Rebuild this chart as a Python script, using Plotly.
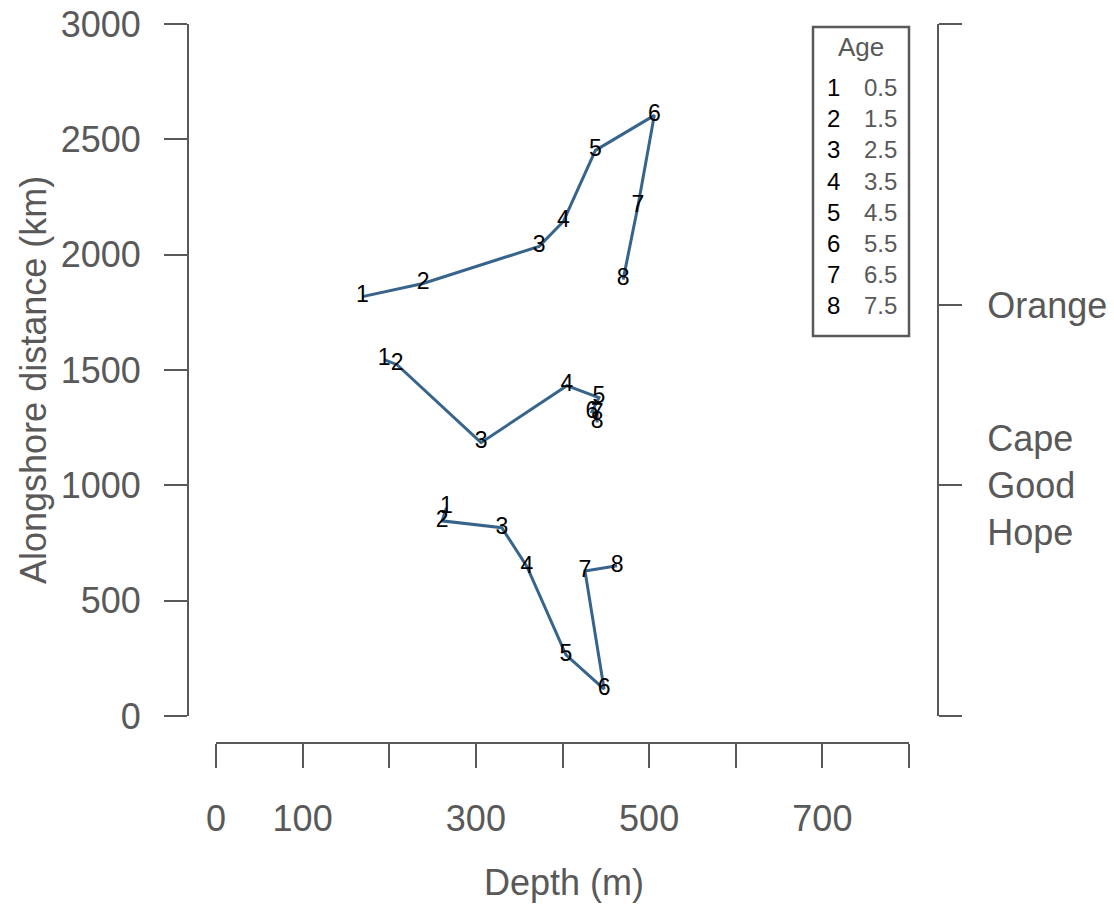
import plotly.graph_objects as go

# ---- data ----
age_labels = ["1", "2", "3", "4", "5", "6", "7", "8"]
ages = [0.5, 1.5, 2.5, 3.5, 4.5, 5.5, 6.5, 7.5]

# northern group
north_depth = [169, 239, 373, 401, 438, 506, 487, 470]
north_dist = [1818, 1875, 2036, 2144, 2452, 2604, 2209, 1892]

# middle group
mid_depth = [194, 209, 306, 405, 442, 434, 440, 440]
mid_dist = [1545, 1523, 1185, 1432, 1380, 1319, 1310, 1272]

# southern group
south_depth = [266, 261, 330, 359, 404, 448, 426, 463]
south_dist = [903, 846, 816, 647, 265, 117, 629, 651]

x_ticks = [0, 100, 200, 300, 400, 500, 600, 700, 800]
x_ticktext = ["0", "100", "", "300", "", "500", "", "700", ""]
y_ticks = [0, 500, 1000, 1500, 2000, 2500, 3000]
region_vals = [1000, 1780]
region_text = ["Cape<br>Good<br>Hope", "Orange"]
region_ticks = [0] + region_vals + [3000]
region_ticktext = [""] + region_text + [""]

W, H = 1114, 908
FONT = "Liberation Sans, Arial, sans-serif"
GRAY = "#595959"
LINE = "#36648B"


def px(x):
    return x / W


def py(y):
    return 1 - y / H


fig = go.Figure()
for dx, dy in [(north_depth, north_dist), (mid_depth, mid_dist), (south_depth, south_dist)]:
    fig.add_trace(go.Scatter(
        x=dx, y=dy, mode="lines+text", text=age_labels,
        textposition="middle center",
        textfont=dict(family=FONT, size=23, color="black"),
        line=dict(color=LINE, width=3),
        showlegend=False, hoverinfo="skip",
    ))

# carrier for the right-hand region axis (invisible)
fig.add_trace(go.Scatter(
    x=[None, None], y=region_vals, yaxis="y2", mode="markers",
    marker=dict(opacity=0), showlegend=False, hoverinfo="skip",
))

axis_common = dict(
    showline=True, linecolor=GRAY, linewidth=2, ticks="outside",
    tickcolor=GRAY, tickwidth=2, showgrid=False, zeroline=False,
    tickfont=dict(family=FONT, size=36, color=GRAY),
)

fig.update_layout(
    width=W, height=H,
    margin=dict(l=0, r=0, t=0, b=0, autoexpand=False),
    paper_bgcolor="white", plot_bgcolor="white",
    showlegend=False,
    xaxis=dict(
        domain=[px(216), px(909)], range=[0, 800], anchor="free",
        position=py(743), tickvals=x_ticks, ticktext=x_ticktext,
        ticklen=24, ticklabelstandoff=20, **axis_common,
    ),
    yaxis=dict(
        domain=[py(716), py(24)], range=[0, 3000], anchor="free",
        position=px(188), tickvals=y_ticks, ticklen=23,
        ticklabelstandoff=16, **axis_common,
    ),
    yaxis2=dict(
        overlaying="y", side="right", range=[0, 3000], anchor="free",
        position=px(938), tickvals=region_ticks, ticktext=region_ticktext,
        ticklen=23, ticklabelstandoff=18, **axis_common,
    ),
)

ann = dict(xref="paper", yref="paper", showarrow=False,
           xanchor="center", yanchor="middle")

# axis titles
fig.add_annotation(text="Depth (m)", x=px(564), y=py(882),
                   font=dict(family=FONT, size=36, color=GRAY), **ann)
fig.add_annotation(text="Alongshore distance (km)", x=px(34), y=py(380),
                   textangle=-90, font=dict(family=FONT, size=36, color=GRAY), **ann)

# legend box
fig.add_shape(type="rect", xref="paper", yref="paper",
              x0=px(813), x1=px(909), y0=py(336), y1=py(27),
              line=dict(color=GRAY, width=2.5), fillcolor="rgba(0,0,0,0)")
fig.add_annotation(text="Age", x=px(861), y=py(47),
                   font=dict(family=FONT, size=26, color=GRAY), **ann)
fig.add_annotation(text="<br>".join(age_labels), x=px(833), y=py(197), align="center",
                   font=dict(family=FONT, size=24, color="black"), **ann)
fig.add_annotation(text="<br>".join(f"{a:.1f}" for a in ages), x=px(880), y=py(197),
                   align="center", font=dict(family=FONT, size=24, color=GRAY), **ann)

fig.write_html("out.html")
